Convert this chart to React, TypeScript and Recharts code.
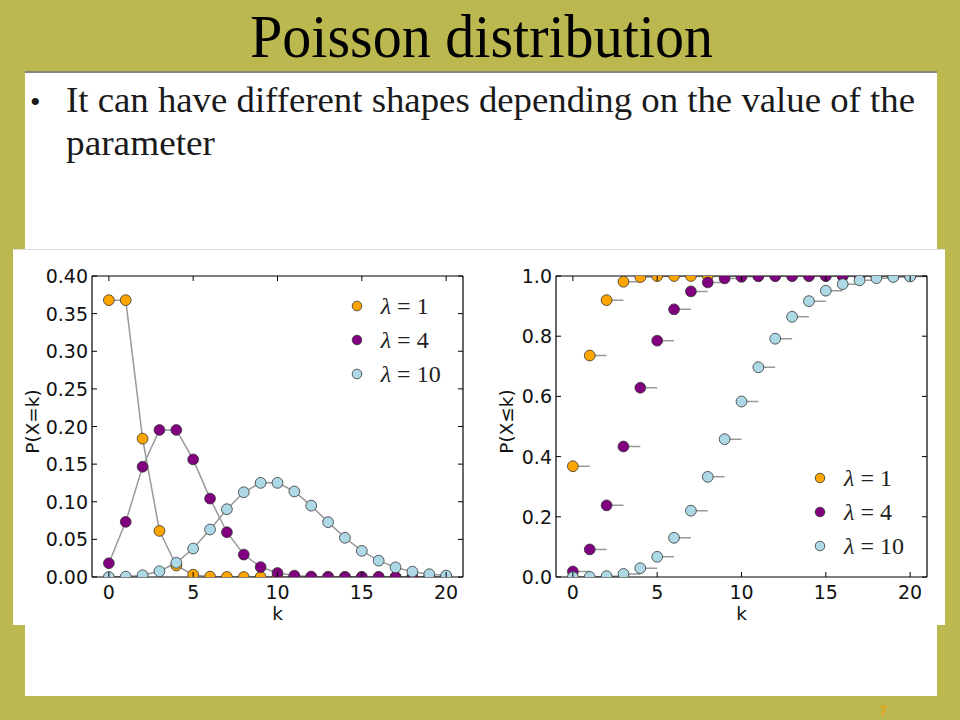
import React from 'react';
import { ComposedChart, Line, XAxis, YAxis, Legend, Label } from 'recharts';

// ---------- data ----------
const kValues = [0, 1, 2, 3, 4, 5, 6, 7, 8, 9, 10, 11, 12, 13, 14, 15, 16, 17, 18, 19, 20];

const lambdaValues = [1, 4, 10];
const seriesNames = ['λ=1', 'λ=4', 'λ=10'];
const seriesColors = ['#FFA500', '#800080', '#ADD8E6'];

const pmfLambda1 = [0.3679, 0.3679, 0.1839, 0.0613, 0.0153, 0.0031, 0.0005, 0.0001, 0.0000, 0.0000, 0.0000, 0.0000, 0.0000, 0.0000, 0.0000, 0.0000, 0.0000, 0.0000, 0.0000, 0.0000, 0.0000];
const pmfLambda4 = [0.0183, 0.0733, 0.1465, 0.1954, 0.1954, 0.1563, 0.1042, 0.0595, 0.0298, 0.0132, 0.0053, 0.0019, 0.0006, 0.0002, 0.0001, 0.0000, 0.0000, 0.0000, 0.0000, 0.0000, 0.0000];
const pmfLambda10 = [0.0000, 0.0005, 0.0023, 0.0076, 0.0189, 0.0378, 0.0631, 0.0901, 0.1126, 0.1251, 0.1251, 0.1137, 0.0948, 0.0729, 0.0521, 0.0347, 0.0217, 0.0128, 0.0071, 0.0037, 0.0019];

const cdfLambda1 = [0.3679, 0.7358, 0.9197, 0.9810, 0.9963, 0.9994, 0.9999, 1.0000, 1.0000, 1.0000, 1.0000, 1.0000, 1.0000, 1.0000, 1.0000, 1.0000, 1.0000, 1.0000, 1.0000, 1.0000, 1.0000];
const cdfLambda4 = [0.0183, 0.0916, 0.2381, 0.4335, 0.6288, 0.7851, 0.8893, 0.9489, 0.9786, 0.9919, 0.9972, 0.9991, 0.9997, 0.9999, 1.0000, 1.0000, 1.0000, 1.0000, 1.0000, 1.0000, 1.0000];
const cdfLambda10 = [0.0000, 0.0005, 0.0028, 0.0103, 0.0293, 0.0671, 0.1301, 0.2202, 0.3328, 0.4579, 0.5830, 0.6968, 0.7916, 0.8645, 0.9165, 0.9513, 0.9730, 0.9857, 0.9928, 0.9965, 0.9984];

const kTicks = [0, 5, 10, 15, 20];
const pmfTicks = [0, 0.05, 0.1, 0.15, 0.2, 0.25, 0.3, 0.35, 0.4];
const cdfTicks = [0, 0.2, 0.4, 0.6, 0.8, 1.0];

const pmfSeries = [pmfLambda1, pmfLambda4, pmfLambda10];
const cdfSeries = [cdfLambda1, cdfLambda4, cdfLambda10];

// ---------- helpers ----------
const toPoints = (values: number[]) => kValues.map((k, i) => ({ k, p: values[i] }));
const toSteps = (values: number[]) => {
  const out: { k: number; p: number | null }[] = [];
  kValues.forEach((k, i) => {
    out.push({ k, p: values[i] });
    out.push({ k: k + 1, p: values[i] });
    out.push({ k: k + 1, p: null });
  });
  return out;
};

// ---------- styles ----------
const OLIVE = '#BBB84F';
const TICK_LEN = 5;
const axisStyle = { stroke: '#000', strokeWidth: 1.2 };
const tickFont = { fontFamily: '"DejaVu Sans", Verdana, sans-serif', fontSize: 19, fill: '#111' };
const labelFont = { fontFamily: '"DejaVu Sans", Verdana, sans-serif', fontSize: 18.5, fill: '#111' };
const serif = '"Liberation Serif", "Times New Roman", serif';

const BottomTick = (props: any) => {
  const { x, y, payload } = props;
  return (
    <g>
      <line x1={x} y1={y} x2={x} y2={y - TICK_LEN} stroke="#000" strokeWidth={1} />
      <text x={x} y={y + 21.5} textAnchor="middle" {...tickFont}>{payload.value}</text>
    </g>
  );
};
const TopTick = (props: any) => {
  const { x, y } = props;
  return <line x1={x} y1={y} x2={x} y2={y + TICK_LEN} stroke="#000" strokeWidth={1} />;
};
const RightTick = (props: any) => {
  const { x, y } = props;
  return <line x1={x} y1={y} x2={x - TICK_LEN} y2={y} stroke="#000" strokeWidth={1} />;
};
const makeLeftTick = (decimals: number) => (props: any) => {
  const { x, y, payload } = props;
  return (
    <g>
      <line x1={x} y1={y} x2={x + TICK_LEN} y2={y} stroke="#000" strokeWidth={1} />
      <text x={x - 4} y={y + 7} textAnchor="end" {...tickFont}>{Number(payload.value).toFixed(decimals)}</text>
    </g>
  );
};

const makeYLabel = (text: string, x: number) => (props: any) => {
  const vb = props.viewBox || {};
  const cy = (vb.y ?? 27) + (vb.height ?? 301) / 2 - 5;
  return (
    <text x={x} y={cy} transform={`rotate(-90, ${x}, ${cy})`} textAnchor="middle" dominantBaseline="central" {...labelFont}>
      {text}
    </text>
  );
};
const XLabel = (props: any) => {
  const vb = props.viewBox || {};
  const cx = (vb.x ?? 79) + (vb.width ?? 371) / 2;
  const y = (vb.y ?? 328) + 43;
  return <text x={cx} y={y} textAnchor="middle" {...labelFont}>k</text>;
};

const LegendContent = () => (
  <div>
    {seriesNames.map((name, i) => (
      <div key={name} style={{ height: 34, display: 'flex', alignItems: 'center' }}>
        <svg width={12} height={12} style={{ display: 'block' }}>
          <circle cx={6} cy={6} r={4.8} fill={seriesColors[i]} stroke="#333" strokeWidth={0.8} />
        </svg>
        <span style={{ marginLeft: 18, fontFamily: serif, fontSize: 24, color: '#222', lineHeight: '24px', whiteSpace: 'nowrap' }}>
          <i>λ</i> = {lambdaValues[i]}
        </span>
      </div>
    ))}
  </div>
);

const dotStyle = (color: string) => ({ r: 5.4, fill: color, stroke: '#333', strokeWidth: 0.8 });

const PmfChart = () => (
  <ComposedChart width={467} height={376} margin={{ top: 26, right: 16, bottom: 47, left: 0 }}>
    {pmfSeries.map((values, i) => (
      <Line
        key={seriesNames[i]}
        name={seriesNames[i]}
        data={toPoints(values)}
        dataKey="p"
        type="linear"
        stroke="#999999"
        strokeWidth={1.5}
        dot={dotStyle(seriesColors[i])}
        activeDot={false}
        legendType="circle"
        isAnimationActive={false}
      />
    ))}
    <XAxis dataKey="k" type="number" domain={[-1, 21]} ticks={kTicks} interval={0} allowDataOverflow height={1}
      tickSize={0} tickMargin={0} tickLine={false} axisLine={axisStyle} tick={BottomTick}>
      <Label content={XLabel} />
    </XAxis>
    <XAxis xAxisId="top" orientation="top" dataKey="k" type="number" domain={[-1, 21]} ticks={kTicks} interval={0} allowDataOverflow height={1}
      tickSize={0} tickMargin={0} tickLine={false} axisLine={axisStyle} tick={TopTick} />
    <YAxis type="number" domain={[0, 0.4]} ticks={pmfTicks} interval={0} allowDataOverflow width={79}
      tickSize={0} tickMargin={0} tickLine={false} axisLine={axisStyle} tick={makeLeftTick(2)}>
      <Label content={makeYLabel('P(X=k)', 19)} />
    </YAxis>
    <YAxis yAxisId="right" orientation="right" type="number" domain={[0, 0.4]} ticks={pmfTicks} interval={0} allowDataOverflow width={1}
      tickSize={0} tickMargin={0} tickLine={false} axisLine={axisStyle} tick={RightTick} />
    <Legend layout="vertical" align="center" verticalAlign="middle" content={LegendContent}
      wrapperStyle={{ left: 337.7, top: 40, width: 130, height: 102 }} />
  </ComposedChart>
);

const CdfChart = () => (
  <ComposedChart width={465} height={376} margin={{ top: 26, right: 17, bottom: 47, left: 0 }}>
    {cdfSeries.map((values, i) => [
      <Line
        key={seriesNames[i] + '-step'}
        name={seriesNames[i] + ' step'}
        data={toSteps(values)}
        dataKey="p"
        type="linear"
        stroke="#999999"
        strokeWidth={1.5}
        dot={false}
        activeDot={false}
        legendType="none"
        connectNulls={false}
        isAnimationActive={false}
      />,
      <Line
        key={seriesNames[i]}
        name={seriesNames[i]}
        data={toPoints(values)}
        dataKey="p"
        type="linear"
        stroke="none"
        dot={dotStyle(seriesColors[i])}
        activeDot={false}
        legendType="circle"
        isAnimationActive={false}
      />,
    ])}
    <XAxis dataKey="k" type="number" domain={[-1, 21]} ticks={kTicks} interval={0} allowDataOverflow height={1}
      tickSize={0} tickMargin={0} tickLine={false} axisLine={axisStyle} tick={BottomTick}>
      <Label content={XLabel} />
    </XAxis>
    <XAxis xAxisId="top" orientation="top" dataKey="k" type="number" domain={[-1, 21]} ticks={kTicks} interval={0} allowDataOverflow height={1}
      tickSize={0} tickMargin={0} tickLine={false} axisLine={axisStyle} tick={TopTick} />
    <YAxis type="number" domain={[0, 1]} ticks={cdfTicks} interval={0} allowDataOverflow width={76}
      tickSize={0} tickMargin={0} tickLine={false} axisLine={axisStyle} tick={makeLeftTick(1)}>
      <Label content={makeYLabel('P(X≤k)', 26.7)} />
    </YAxis>
    <YAxis yAxisId="right" orientation="right" type="number" domain={[0, 1]} ticks={cdfTicks} interval={0} allowDataOverflow width={1}
      tickSize={0} tickMargin={0} tickLine={false} axisLine={axisStyle} tick={RightTick} />
    <Legend layout="vertical" align="center" verticalAlign="middle" content={LegendContent}
      wrapperStyle={{ left: 334, top: 212.3, width: 130, height: 102 }} />
  </ComposedChart>
);

export default function App() {
  return (
    <div style={{ position: 'absolute', left: 0, top: 0, width: 960, height: 720, background: OLIVE, overflow: 'hidden' }}>
      {/* white slide panel */}
      <div style={{ position: 'absolute', left: 25, top: 71, width: 912, height: 625, background: '#fff', borderTop: '2px solid #85857a', boxSizing: 'border-box' }} />
      {/* chart image panel */}
      <div style={{ position: 'absolute', left: 13, top: 249, width: 932, height: 376, background: '#fff', borderTop: '1px solid #dcdcdc', boxSizing: 'border-box' }} />
      {/* slide texts */}
      <svg width={960} height={720} style={{ position: 'absolute', left: 0, top: 0 }}>
        <text x={481.5} y={57} textAnchor="middle" fontFamily={serif} fontSize={62} fill="#000" textLength={463} lengthAdjust="spacingAndGlyphs">
          Poisson distribution
        </text>
        <text x={30} y={112} fontFamily={serif} fontSize={30} fill="#1a1a1a">•</text>
        <text x={66} y={112} fontFamily={serif} fontSize={36} fill="#1a1a1a" textLength={849} lengthAdjust="spacingAndGlyphs">
          It can have different shapes depending on the value of the
        </text>
        <text x={66} y={155} fontFamily={serif} fontSize={36} fill="#1a1a1a" textLength={149} lengthAdjust="spacingAndGlyphs">
          parameter
        </text>
        <text x={879} y={715} fontFamily='"DejaVu Sans", sans-serif' fontSize={13} fill="#FF9900">7</text>
      </svg>
      <div style={{ position: 'absolute', left: 13, top: 249, width: 467, height: 376 }}>
        <PmfChart />
      </div>
      <div style={{ position: 'absolute', left: 480, top: 249, width: 465, height: 376 }}>
        <CdfChart />
      </div>
    </div>
  );
}
